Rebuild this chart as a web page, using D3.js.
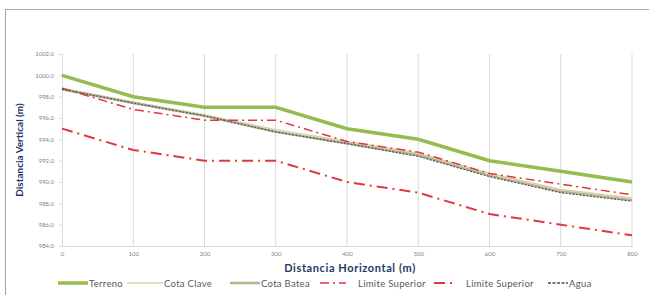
<!DOCTYPE html>
<html>
<head>
<meta charset="utf-8">
<script src="https://cdn.jsdelivr.net/npm/d3@7"></script>
<style>
  body { margin: 0; background: #fff; }
  text { font-family: Lato, "Open Sans", sans-serif; }
</style>
</head>
<body>
<div id="chart"></div>
<script>
// Datos del perfil
var distancias = [0, 100, 200, 300, 400, 500, 600, 700, 800];
var terreno    = [1000, 998, 997, 997, 995, 994, 992, 991, 990];
var cotaClave  = [998.8, 997.5, 996.3, 994.9, 993.8, 992.7, 990.8, 989.3, 988.5];
var cotaBatea  = [998.7, 997.4, 996.2, 994.7, 993.6, 992.5, 990.6, 989.1, 988.3];
var limiteSup1 = [998.8, 996.8, 995.8, 995.8, 993.8, 992.8, 990.8, 989.8, 988.8];
var limiteSup2 = [995, 993, 992, 992, 990, 989, 987, 986, 985];
var agua       = [998.7, 997.4, 996.2, 994.7, 993.6, 992.4, 990.5, 989.0, 988.2];
var yTicks = [984, 986, 988, 990, 992, 994, 996, 998, 1000, 1002];
var xTicks = [0, 100, 200, 300, 400, 500, 600, 700, 800];

var width = 649, height = 295;
var margin = {top: 54, right: 17, bottom: 49, left: 62};

var series = [
  {name: "Terreno", values: terreno, color: "#94bc4f", width: 3.5, dash: null},
  {name: "Cota Clave", values: cotaClave, color: "#d8cfae", width: 1.5, dash: null},
  {name: "Cota Batea", values: cotaBatea, color: "#b9b38c", width: 2.5, dash: null},
  {name: "Limite Superior", values: limiteSup1, color: "#e0383e", width: 1.5, dash: "9,4,2,4"},
  {name: "Limite Superior", values: limiteSup2, color: "#e0383e", width: 2, dash: "11,5,2,5"},
  {name: "Agua", values: agua, color: "#4a5568", width: 1.2, dash: "2,1.5"}
];

var svg = d3.select("#chart").append("svg")
  .attr("width", width)
  .attr("height", height);

// marco del gráfico
svg.append("rect")
  .attr("x", 5.5).attr("y", 9.5)
  .attr("width", width).attr("height", height)
  .style("fill", "none")
  .style("stroke", "#a6a6a6");

var x = d3.scaleLinear().domain([0, 800]).range([margin.left, width - margin.right]);
var y = d3.scaleLinear().domain([984, 1002]).range([height - margin.bottom, margin.top]);

// lineas verticales de la grilla
svg.append("g")
  .selectAll("line")
  .data(xTicks.slice(1))
  .enter().append("line")
  .attr("x1", function(d) { return x(d); })
  .attr("x2", function(d) { return x(d); })
  .attr("y1", y(1002))
  .attr("y2", y(984))
  .style("stroke", "#d9d9d9")
  .style("stroke-width", 1);

// eje X
var xAxis = svg.append("g")
  .attr("transform", "translate(0," + y(984) + ")")
  .call(d3.axisBottom(x).tickValues(xTicks).tickSize(0).tickPadding(6));
xAxis.select(".domain").style("stroke", "#d9d9d9");
xAxis.selectAll("text").style("font-size", "6px").style("fill", "#7f7f7f");

// eje Y
var yAxis = svg.append("g")
  .attr("transform", "translate(" + x(0) + ",0)")
  .call(d3.axisLeft(y).tickValues(yTicks).tickFormat(d3.format(".1f")).tickSize(3).tickPadding(5));
yAxis.select(".domain").style("stroke", "#d9d9d9");
yAxis.selectAll("line").style("stroke", "#d9d9d9");
yAxis.selectAll("text").style("font-size", "6px").style("fill", "#7f7f7f");

// lineas de datos
var line = d3.line()
  .x(function(d, i) { return x(distancias[i]); })
  .y(function(d) { return y(d); });

series.forEach(function(s) {
  svg.append("path")
    .datum(s.values)
    .attr("d", line)
    .style("fill", "none")
    .style("stroke", s.color)
    .style("stroke-width", s.width)
    .style("stroke-dasharray", s.dash);
});

// títulos de ejes
svg.append("text")
  .attr("x", 350).attr("y", 272)
  .attr("text-anchor", "middle")
  .style("font-size", "11px")
  .style("font-weight", "bold")
  .style("letter-spacing", "0.6px")
  .style("fill", "#1f3864")
  .text("Distancia Horizontal (m)");

svg.append("text")
  .attr("transform", "translate(23,150) rotate(-90)")
  .attr("text-anchor", "middle")
  .style("font-size", "10px")
  .style("font-weight", "bold")
  .style("fill", "#1f3864")
  .text("Distancia Vertical (m)");

// leyenda
var legendX = [58, 127, 230, 320, 434, 548];
var legendLen = [30, 36, 30, 26, 20, 20];
var legend = svg.append("g").attr("transform", "translate(0,283)");
series.forEach(function(s, i) {
  var g = legend.append("g").attr("transform", "translate(" + legendX[i] + ",0)");
  g.append("line")
    .attr("x1", 0).attr("x2", legendLen[i])
    .attr("y1", 0).attr("y2", 0)
    .style("stroke", i === 5 ? "#3b4a6b" : s.color)
    .style("stroke-width", i === 5 ? 1.5 : s.width)
    .style("stroke-dasharray", i === 5 ? "3,1.5" : s.dash);
  g.append("text")
    .attr("x", legendLen[i] + (i === 3 || i === 4 ? 12 : 1))
    .attr("y", 3.5)
    .style("font-size", "9.5px")
    .style("letter-spacing", "0.3px")
    .style("fill", "#595959")
    .text(s.name);
});
</script>
</body>
</html>
